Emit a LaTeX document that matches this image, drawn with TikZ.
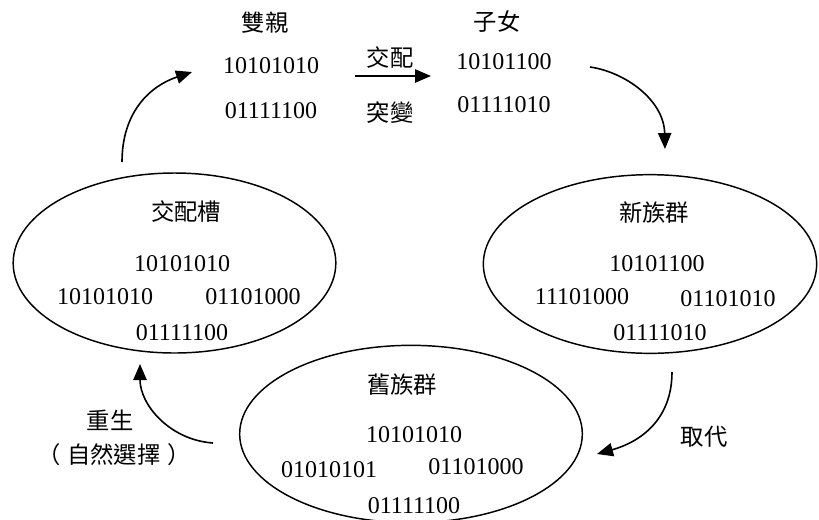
\documentclass[tikz,border=0pt]{standalone}
\usepackage{fontspec}
\setmainfont{Liberation Serif}
\newfontfamily\cjk{Noto Sans CJK TC}
\usetikzlibrary{shapes.geometric,arrows.meta}
\tikzset{
  pool/.style={draw, ellipse, line width=1.1pt, inner sep=0pt},
  bits/.style={font=\fontsize{18}{20}\selectfont, inner sep=0pt, anchor=center},
  zh/.style={font=\cjk\fontsize{17.5}{20}\selectfont, inner sep=0pt, anchor=center},
  flow/.style={line width=1.2pt, -{Triangle[length=12pt,width=10pt]}},
}
\begin{document}
\begin{tikzpicture}[x=0.75pt,y=-0.75pt]
\useasboundingbox (0,0) rectangle (819,519);
% ellipses
\node[pool, minimum width=242pt, minimum height=135pt] (mating) at (174.5,263) {};
\node[pool, minimum width=250pt, minimum height=134pt] (newpop) at (650,264) {};
\node[pool, minimum width=257pt, minimum height=133pt] (oldpop) at (411,434) {};
% top texts
\node[zh] (parents) at (265,23) {雙親};
\node[bits] (p1) at (271,66) {10101010};
\node[bits] (p2) at (271,111) {01111100};
\node[zh] (cross) at (390,58) {交配};
\node[zh] (mut) at (390,113) {突變};
\node[zh] (kids) at (497,22) {子女};
\node[bits] (c1) at (504,62) {10101100};
\node[bits] (c2) at (504,105) {01111010};
% mating pool texts
\node[zh] (matingT) at (186,212) {交配槽};
\node[bits] (m1) at (182,264) {10101010};
\node[bits] (m2) at (105,297) {10101010};
\node[bits] (m3) at (253,297) {01101000};
\node[bits] (m4) at (182,333) {01111100};
% new population texts
\node[zh] (newT) at (654,213) {新族群};
\node[bits] (n1) at (657,264) {10101100};
\node[bits] (n2) at (582,297) {11101000};
\node[bits] (n3) at (728,299) {01101010};
\node[bits] (n4) at (660,333) {01111010};
% old population texts
\node[zh] (oldT) at (402,385) {舊族群};
\node[bits] (o1) at (414,435) {10101010};
\node[bits] (o2) at (329,470) {01010101};
\node[bits] (o3) at (476,467) {01101000};
\node[bits] (o4) at (414,506) {01111100};
% side labels
\node[zh] (replace) at (704,437) {取代};
\node[zh] (rebirth) at (110,420) {重生};
\node[zh] (select) at (114,455) {（\hspace{5pt}自然選擇\hspace{5pt}）};
% arrow end points
\coordinate (a1s) at (122,162);
\coordinate (a1e) at (192,72);
\coordinate (a2s) at (355,76);
\coordinate (a2e) at (431,76);
\coordinate (a3s) at (590,67);
\coordinate (a3e) at (665,149);
\coordinate (a4s) at (672,372);
\coordinate (a4e) at (597,454);
\coordinate (a5s) at (213,443);
\coordinate (a5e) at (140,364);
% arrows
\draw[flow] (a1s) .. controls (122,112) and (150,86) .. (a1e);
\draw[flow] (a2s) -- (a2e);
\draw[flow] (a3s) .. controls (625,72) and (664,100) .. (a3e);
\draw[flow] (a4s) .. controls (672,420) and (640,442) .. (a4e);
\draw[flow] (a5s) .. controls (170,440) and (140,405) .. (a5e);
\end{tikzpicture}
\end{document}
